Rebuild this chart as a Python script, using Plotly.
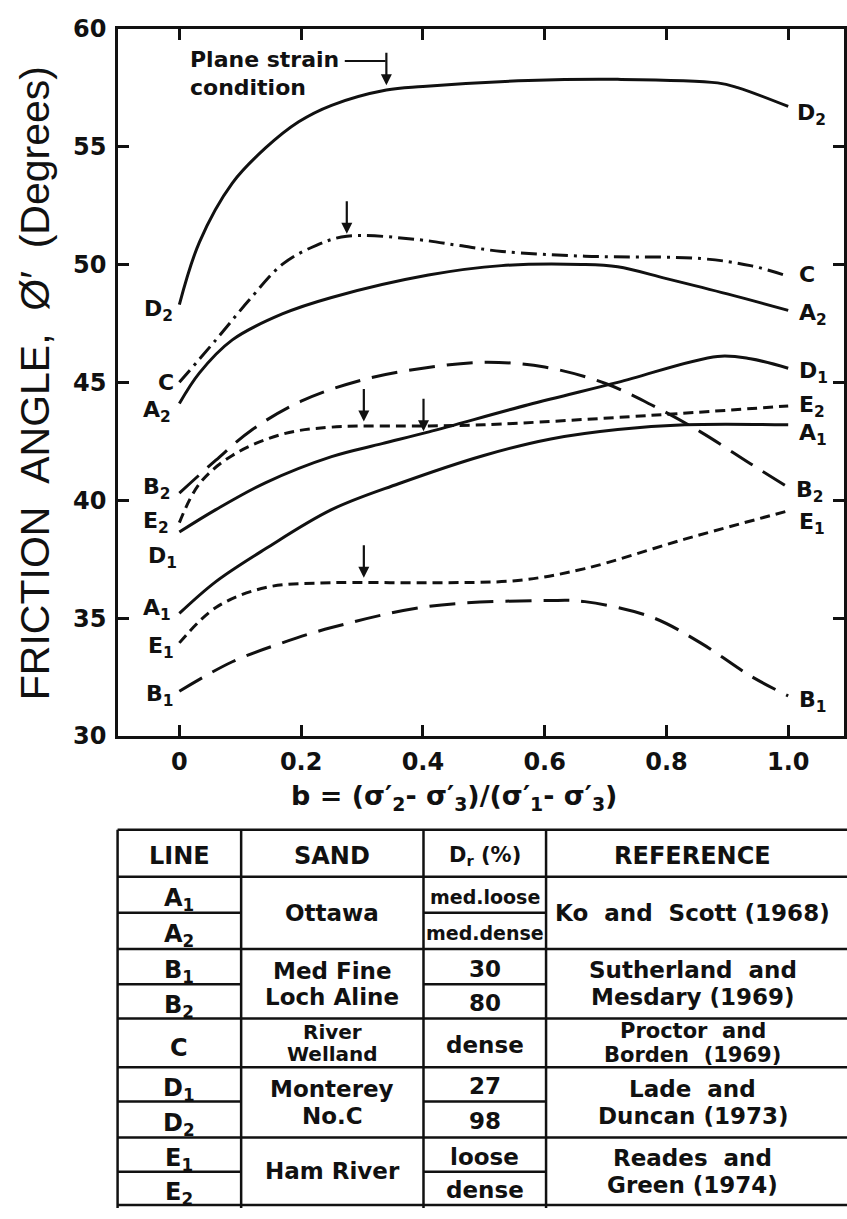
import plotly.graph_objects as go

W, H = 847, 1219
INK = "#111111"
LETTER_FONT = "DejaVu Sans"
TITLE_FONT = "Liberation Sans"

# ---- data: b = (s2'-s3')/(s1'-s3') versus friction angle phi' (degrees) ----
b_A1 = [0, 0.06, 0.142, 0.25, 0.36, 0.50, 0.61, 0.72, 0.83, 1.0]
phi_A1 = [35.2, 36.55, 37.95, 39.6, 40.7, 41.9, 42.6, 43.0, 43.2, 43.2]

b_A2 = [0, 0.033, 0.087, 0.169, 0.25, 0.409, 0.529, 0.66, 0.72, 0.80, 0.90, 1.0]
phi_A2 = [44.1, 45.4, 46.8, 47.9, 48.6, 49.55, 49.95, 50.0, 49.9, 49.4, 48.75, 48.05]

b_B1 = [0, 0.087, 0.169, 0.25, 0.41, 0.61, 0.666, 0.775, 0.856, 0.938, 1.0]
phi_B1 = [31.9, 33.15, 33.95, 34.6, 35.5, 35.75, 35.7, 35.05, 33.95, 32.55, 31.7]

b_B2 = [0, 0.06, 0.12, 0.2, 0.3, 0.40, 0.50, 0.60, 0.70, 0.775, 0.856, 0.938, 1.0]
phi_B2 = [40.3, 41.7, 43.0, 44.2, 45.1, 45.6, 45.85, 45.65, 44.95, 44.05, 42.9, 41.55, 40.55]

b_C = [0, 0.06, 0.115, 0.169, 0.224, 0.275, 0.393, 0.46, 0.53, 0.666, 0.856, 0.938, 1.0]
phi_C = [45.0, 46.8, 48.5, 50.0, 50.8, 51.2, 51.05, 50.8, 50.55, 50.35, 50.25, 49.95, 49.5]

b_D1 = [0, 0.06, 0.142, 0.25, 0.333, 0.41, 0.573, 0.72, 0.884, 0.938, 1.0]
phi_D1 = [38.65, 39.6, 40.75, 41.85, 42.4, 42.9, 44.05, 45.0, 46.1, 46.0, 45.6]

b_D2 = [0, 0.033, 0.087, 0.142, 0.196, 0.25, 0.34, 0.40, 0.573, 0.72, 0.884, 0.917, 1.0]
phi_D2 = [48.3, 50.95, 53.45, 54.95, 56.05, 56.75, 57.4, 57.55, 57.8, 57.85, 57.7, 57.5, 56.7]

b_E1 = [0, 0.06, 0.142, 0.25, 0.41, 0.556, 0.666, 0.83, 1.0]
phi_E1 = [33.95, 35.45, 36.3, 36.5, 36.5, 36.6, 37.1, 38.35, 39.55]

b_E2 = [0, 0.033, 0.087, 0.169, 0.25, 0.41, 0.50, 0.775, 1.0]
phi_E2 = [39.05, 40.7, 41.9, 42.8, 43.1, 43.15, 43.2, 43.6, 44.0]

x_tickvals = [0, 0.2, 0.4, 0.6, 0.8, 1.0]
x_ticktext = ["0", "0.2", "0.4", "0.6", "0.8", "1.0"]
y_tickvals = [30, 35, 40, 45, 50, 55, 60]

# arrows marking the plane strain condition on each curve: (b, phi at arrow tip)
plane_strain_b = [0.34, 0.275, 0.303, 0.401, 0.303]
plane_strain_phi = [57.6, 51.3, 43.34, 42.93, 36.71]

# ---- table contents ----
table_header = ["LINE", "SAND", "D<sub>r</sub> (%)", "REFERENCE"]
line_ids = ["A1", "A2", "B1", "B2", "C", "D1", "D2", "E1", "E2"]
sands = ["Ottawa", "Med Fine|Loch Aline", "River|Welland", "Monterey|No.C", "Ham River"]
densities = ["med.loose", "med.dense", "30", "80", "dense", "27", "98", "loose", "dense"]
references = ["Ko  and  Scott (1968)", "Sutherland  and|Mesdary (1969)",
              "Proctor  and|Borden  (1969)", "Lade  and|Duncan (1973)",
              "Reades  and|Green (1974)"]

NB = "\u00a0"


def sub(label):
    return label[0] + ("<sub>%s</sub>" % label[1:] if len(label) > 1 else "")


def px(x):
    return x / W


def py(y):
    return 1 - y / H


def note(text, x, y, size, xanchor="center", yanchor="middle", family=LETTER_FONT,
         angle=0, weight="bold"):
    return dict(text=text.replace("  ", NB + NB), x=px(x), y=py(y), xref="paper",
                yref="paper", showarrow=False, xanchor=xanchor, yanchor=yanchor,
                textangle=angle,
                font=dict(family=family, size=size, color=INK, weight=weight))


def hline(x0, x1, y, w=2.5):
    return dict(type="line", xref="paper", yref="paper", x0=px(x0), x1=px(x1),
                y0=py(y), y1=py(y), line=dict(color=INK, width=w))


def vline(x, y0, y1, w=2.5):
    return dict(type="line", xref="paper", yref="paper", x0=px(x), x1=px(x),
                y0=py(y0), y1=py(y1), line=dict(color=INK, width=w))


SOLID = "solid"
DASH_DOT = "16px,6px,3px,6px"
LONG_DASH = "26px,12px"
SHORT_DASH = "10px,6px"

series = [
    ("D2", b_D2, phi_D2, SOLID),
    ("C", b_C, phi_C, DASH_DOT),
    ("A2", b_A2, phi_A2, SOLID),
    ("B2", b_B2, phi_B2, LONG_DASH),
    ("E2", b_E2, phi_E2, SHORT_DASH),
    ("D1", b_D1, phi_D1, SOLID),
    ("A1", b_A1, phi_A1, SOLID),
    ("E1", b_E1, phi_E1, SHORT_DASH),
    ("B1", b_B1, phi_B1, LONG_DASH),
]

fig = go.Figure()
for name, bx, phy, dash in series:
    fig.add_trace(go.Scatter(
        x=bx, y=phy, mode="lines", name=name,
        line=dict(color=INK, width=3, dash=dash, shape="spline", smoothing=1.0),
        hoverinfo="skip"))

annotations = []

# curve labels at both ends (left edge x, letter centre y in pixels)
left_pos = {"D2": (143, 299), "C": (157, 377), "A2": (142, 403), "B2": (142, 482),
            "E2": (142, 516), "D1": (147, 552), "A1": (142, 606), "E1": (147, 644),
            "B1": (145, 694)}
right_pos = {"D2": (798, 99), "C": (800, 267), "A2": (800, 304), "D1": (800, 363),
             "E2": (800, 398), "A1": (800, 426), "B2": (797, 485), "E1": (800, 517),
             "B1": (800, 700)}
for name, _, _, _ in series:
    for pos in (left_pos, right_pos):
        lx, ly = pos[name]
        shift = 4 if len(name) > 1 else 0
        annotations.append(note(sub(name), lx, ly + shift, 22, xanchor="left"))

# plane strain arrows
for bx, phy in zip(plane_strain_b, plane_strain_phi):
    annotations.append(dict(x=bx, y=phy, xref="x", yref="y", text="", showarrow=True,
                            ax=0, ay=-34, arrowhead=2, arrowsize=1.0, arrowwidth=2.2,
                            arrowcolor=INK))

annotations.append(note("Plane strain", 189, 47, 22, xanchor="left"))
annotations.append(note("condition", 189, 75, 22, xanchor="left"))

# axis titles
annotations.append(note("FRICTION  ANGLE,  Ø′  (Degrees)", 35, 378, 41,
                        family=TITLE_FONT, angle=-90, weight="normal"))
annotations.append(note("b = (σ′<sub>2</sub>- σ′<sub>3</sub>)/(σ′<sub>1</sub>- σ′<sub>3</sub>)",
                        456, 802, 27))

shapes = [hline(346, 387, 48, 2)]

# ---- table ----
col_x = [118, 242, 425, 548, 850]
top, head_bot = 835, 883
row_edges = [883, 920, 957, 993, 1028, 1078, 1113, 1150, 1185, 1219]
group_edges = [883, 957, 1028, 1078, 1150, 1219]

for x in col_x[:4]:
    shapes.append(vline(x, top, 1222))
for y in [top, head_bot] + group_edges[1:]:
    shapes.append(hline(118, 850, y))
for y in [920, 993, 1113, 1185]:
    shapes.append(hline(118, 242, y))
    shapes.append(hline(425, 548, y))

col_c = [(col_x[i] + col_x[i + 1]) / 2 for i in range(3)] + [695]
head_y = 862
for i, t in enumerate(table_header):
    annotations.append(note(t, col_c[i], head_y, 24 if i != 2 else 21))

for i, lid in enumerate(line_ids):
    yc = (row_edges[i] + row_edges[i + 1]) / 2
    annotations.append(note(sub(lid), col_c[0], yc + 5, 24))
    size = 19 if densities[i].startswith("med") else 23
    annotations.append(note(densities[i], col_c[2], yc + 2, size))

gap = [0, 27, 22, 28, 0]
for g, (s, r) in enumerate(zip(sands, references)):
    yc = (group_edges[g] + group_edges[g + 1]) / 2
    parts = s.split("|")
    fs = 20 if g == 2 else 23
    if len(parts) == 1:
        annotations.append(note(parts[0], col_c[1], yc, 23))
    else:
        annotations.append(note(parts[0], col_c[1], yc - gap[g] / 2, fs))
        annotations.append(note(parts[1], col_c[1], yc + gap[g] / 2, fs))
    rparts = r.split("|")
    if len(rparts) == 1:
        annotations.append(note(rparts[0], col_c[3], yc, 23))
    else:
        rg = 28 if g != 2 else 24
        annotations.append(note(rparts[0], col_c[3], yc - rg / 2, 21 if g == 2 else 23))
        annotations.append(note(rparts[1], col_c[3], yc + rg / 2, 21 if g == 2 else 23))

axis_common = dict(showline=True, linewidth=2.8, linecolor=INK, mirror="ticks",
                   ticks="inside", ticklen=11, tickwidth=2.5, tickcolor=INK,
                   showgrid=False, zeroline=False,
                   tickfont=dict(family=LETTER_FONT, size=24, color=INK, weight="bold"))

x_left_px, x_right_px, x0_px, px_per_b = 118.5, 847, 180, 611
fig.update_xaxes(range=[(x_left_px - x0_px) / px_per_b, (x_right_px - x0_px) / px_per_b],
                 domain=[x_left_px / W, 1], tickvals=x_tickvals, ticktext=x_ticktext,
                 ticklabelstandoff=2, **axis_common)
fig.update_yaxes(range=[30, 60], domain=[py(739), py(15)], tickvals=y_tickvals,
                 ticklabelstandoff=4, **axis_common)

fig.update_layout(width=W, height=H, margin=dict(l=0, r=0, t=0, b=0),
                  paper_bgcolor="white", plot_bgcolor="white", showlegend=False,
                  annotations=annotations, shapes=shapes)

fig.write_html("out.html")
